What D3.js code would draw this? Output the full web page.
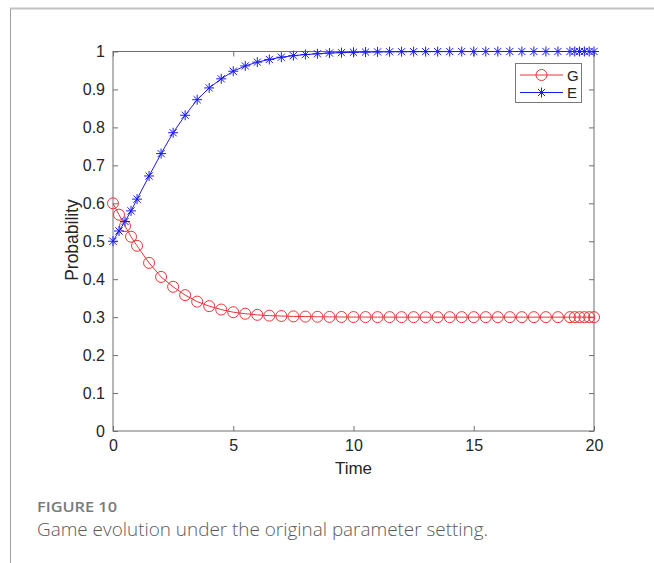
<!DOCTYPE html>
<html lang="en">
<head>
<meta charset="utf-8">
<script src="https://d3js.org/d3.v7.min.js"></script>
<style>
  body { margin: 0; background: #fff; }
  svg text { font-family: "Liberation Sans", Arial, sans-serif; }
</style>
</head>
<body>
<svg width="654" height="563"></svg>
<script>
// time steps of the solver output
var time = [0, 0.25, 0.5, 0.75, 1, 1.5, 2, 2.5, 3, 3.5, 4, 4.5, 5, 5.5, 6, 6.5, 7, 7.5, 8, 8.5,
            9, 9.5, 10, 10.5, 11, 11.5, 12, 12.5, 13, 13.5, 14, 14.5, 15, 15.5, 16, 16.5, 17, 17.5,
            18, 18.5, 19, 19.2, 19.4, 19.6, 19.8, 20];
var gVals = [0.6, 0.570, 0.540, 0.512, 0.488, 0.443, 0.406, 0.380, 0.358, 0.341, 0.329, 0.320, 0.313,
             0.309, 0.306, 0.304, 0.303, 0.302, 0.3015, 0.301, 0.3007, 0.3005, 0.3003, 0.3002, 0.3001,
             0.3001, 0.3, 0.3, 0.3, 0.3, 0.3, 0.3, 0.3, 0.3, 0.3, 0.3, 0.3, 0.3, 0.3, 0.3, 0.3, 0.3,
             0.3, 0.3, 0.3, 0.3];
var eVals = [0.5, 0.527, 0.552, 0.580, 0.611, 0.672, 0.731, 0.786, 0.832, 0.873, 0.904, 0.928, 0.948,
             0.962, 0.972, 0.979, 0.985, 0.989, 0.992, 0.994, 0.996, 0.997, 0.998, 0.9985, 0.999,
             0.9993, 0.9995, 0.9996, 0.9997, 0.9998, 0.9998, 0.9999, 0.9999, 1, 1, 1, 1, 1, 1, 1, 1,
             1, 1, 1, 1, 1];
var xTicks = [0, 5, 10, 15, 20];
var yTicks = [0, 0.1, 0.2, 0.3, 0.4, 0.5, 0.6, 0.7, 0.8, 0.9, 1];
var seriesNames = ["G", "E"];
var seriesColors = ["#e8363a", "#1a1aff"];

var svg = d3.select("svg");

// page frame lines
svg.append("line").attr("x1", 10).attr("x2", 654).attr("y1", 8.5).attr("y2", 8.5)
   .attr("stroke", "#c4c4c4").attr("stroke-width", 2);
svg.append("line").attr("x1", 10.5).attr("x2", 10.5).attr("y1", 9).attr("y2", 563)
   .attr("stroke", "#a0a0a0").attr("stroke-width", 1);

var pLeft = 113, pRight = 594, pTop = 51.5, pBottom = 431;
var x = d3.scaleLinear().domain([0, 20]).range([pLeft, pRight]);
var y = d3.scaleLinear().domain([0, 1]).range([pBottom, pTop]);

var axisColor = "#6e6e6e", labelColor = "#262626";

function styleAxis(g) {
  g.select(".domain").remove();
  g.selectAll(".tick line").attr("stroke", axisColor);
  g.selectAll(".tick text").attr("fill", labelColor).style("font-size", "16px");
}

svg.append("g").attr("transform", "translate(0," + pBottom + ")")
   .call(d3.axisBottom(x).tickValues(xTicks).tickSizeInner(-5).tickSizeOuter(0).tickPadding(9))
   .call(styleAxis);
svg.append("g").attr("transform", "translate(0," + pTop + ")")
   .call(d3.axisTop(x).tickValues(xTicks).tickSizeInner(-5).tickSizeOuter(0).tickFormat(""))
   .call(styleAxis);
svg.append("g").attr("transform", "translate(" + pLeft + ",0)")
   .call(d3.axisLeft(y).tickValues(yTicks).tickSizeInner(-5).tickSizeOuter(0).tickPadding(8)
         .tickFormat(function(d) { return String(+d.toFixed(1)); }))
   .call(styleAxis);
svg.append("g").attr("transform", "translate(" + pRight + ",0)")
   .call(d3.axisRight(y).tickValues(yTicks).tickSizeInner(-5).tickSizeOuter(0).tickFormat(""))
   .call(styleAxis);

// box
svg.append("rect").attr("x", pLeft).attr("y", pTop).attr("width", pRight - pLeft).attr("height", pBottom - pTop)
   .attr("fill", "none").attr("stroke", axisColor).attr("stroke-width", 1);

svg.append("text").attr("x", (pLeft + pRight) / 2).attr("y", 474).attr("text-anchor", "middle")
   .attr("fill", labelColor).style("font-size", "17px").text("Time");
svg.append("text").attr("transform", "translate(78,240) rotate(-90)").attr("text-anchor", "middle")
   .attr("fill", labelColor).style("font-size", "17.5px").text("Probability");

function drawCircle(g, cx, cy, color) {
  g.append("circle").attr("cx", cx).attr("cy", cy).attr("r", 5.5)
   .attr("fill", "none").attr("stroke", color).attr("stroke-width", 1);
}
function drawStar(g, cx, cy, color) {
  var s = 5, d = s * 0.72;
  var p = "M" + (cx - s) + "," + cy + "H" + (cx + s) +
          "M" + cx + "," + (cy - s) + "V" + (cy + s) +
          "M" + (cx - d) + "," + (cy - d) + "L" + (cx + d) + "," + (cy + d) +
          "M" + (cx - d) + "," + (cy + d) + "L" + (cx + d) + "," + (cy - d);
  g.append("path").attr("d", p).attr("stroke", color).attr("stroke-width", 1).attr("fill", "none");
}

var line = d3.line().x(function(d) { return x(d[0]); }).y(function(d) { return y(d[1]); });
var series = [gVals, eVals];
series.forEach(function(vals, i) {
  var pts = time.map(function(t, j) { return [t, vals[j]]; });
  var g = svg.append("g");
  g.append("path").datum(pts).attr("d", line).attr("fill", "none")
   .attr("stroke", seriesColors[i]).attr("stroke-width", 1);
  pts.forEach(function(p) {
    if (i === 0) drawCircle(g, x(p[0]), y(p[1]), seriesColors[i]);
    else drawStar(g, x(p[0]), y(p[1]), seriesColors[i]);
  });
});

// legend
var lg = svg.append("g");
lg.append("rect").attr("x", 515.5).attr("y", 63.5).attr("width", 66).attr("height", 39)
  .attr("fill", "#fff").attr("stroke", "#7a7a7a").attr("stroke-width", 1);
seriesNames.forEach(function(name, i) {
  var ly = 75 + i * 17.5;
  lg.append("line").attr("x1", 520).attr("x2", 563).attr("y1", ly).attr("y2", ly)
    .attr("stroke", seriesColors[i]).attr("stroke-width", 1);
  if (i === 0) drawCircle(lg, 541.5, ly, seriesColors[i]);
  else drawStar(lg, 541.5, ly, seriesColors[i]);
  lg.append("text").attr("x", 567).attr("y", ly + 5.5).attr("fill", labelColor)
    .style("font-size", "15px").text(name);
});

// caption
svg.append("text").attr("x", 37).attr("y", 512).attr("fill", "#7a7a7a")
   .style("font-family", "'Open Sans', sans-serif").style("font-size", "14px").style("font-weight", "600")
   .attr("textLength", 80).attr("lengthAdjust", "spacingAndGlyphs").text("FIGURE 10");
svg.append("text").attr("x", 37).attr("y", 536).attr("fill", "#5a5a5a")
   .style("font-family", "'Open Sans', sans-serif").style("font-size", "18px").style("font-weight", "300")
   .attr("textLength", 451).attr("lengthAdjust", "spacingAndGlyphs")
   .text("Game evolution under the original parameter setting.");
</script>
</body>
</html>
